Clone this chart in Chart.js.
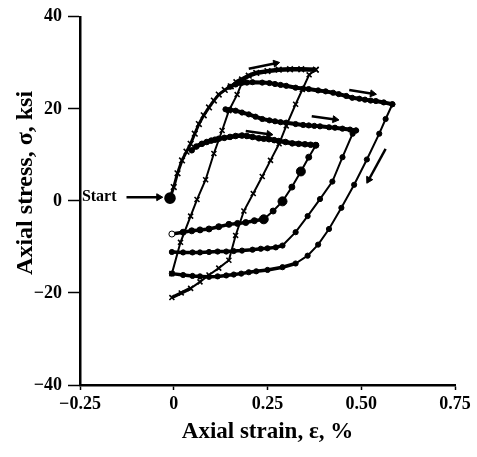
<!DOCTYPE html>
<html>
<head>
<meta charset="utf-8">
<script src="https://cdn.jsdelivr.net/npm/chart.js@4"></script>
<style>
  html, body { margin: 0; padding: 0; background: #fff; }
  canvas { display: block; }
</style>
</head>
<body>
<canvas id="hysteresis-canvas" width="477" height="457"></canvas>
<script>
// axis ticks
const xTickValues = [-0.25, 0, 0.25, 0.5, 0.75];
const xTickLabels = ['\u22120.25', '0', '0.25', '0.50', '0.75'];
const yTickValues = [-40, -20, 0, 20, 40];
const yTickLabels = ['\u221240', '\u221220', '0', '20', '40'];

// initial loading curve (crosses), start -> first peak
const loadStrain = [-0.01, 0.0, 0.01, 0.022, 0.034, 0.045, 0.056, 0.067, 0.08, 0.094, 0.107, 0.12, 0.136, 0.152, 0.167, 0.182, 0.2, 0.22, 0.25, 0.28, 0.31, 0.34, 0.379];
const loadStress = [0.6, 3, 6, 8.8, 10.7, 12.4, 14.6, 16.7, 18.6, 20.3, 21.8, 23.1, 24.1, 24.9, 25.8, 26.4, 27.2, 27.8, 28.2, 28.5, 28.6, 28.6, 28.5];

// unloading from first peak down to -21 ksi (crosses)
const unloadAStrain = [0.379, 0.361, 0.343, 0.325, 0.30, 0.281, 0.258, 0.236, 0.212, 0.187, 0.165, 0.147, 0.12, 0.094, 0.07, 0.045, 0.02, -0.005];
const unloadAStress = [28.5, 27.4, 24.2, 21, 16.3, 12.4, 8.8, 5.3, 1.6, -2.2, -7.5, -12.9, -14.6, -16.1, -17.6, -19, -20, -21];

// reloading from -16 ksi (crosses)
const reloadStrain = [-0.005, 0.018, 0.045, 0.062, 0.085, 0.107, 0.129, 0.147, 0.169, 0.182];
const reloadStress = [-15.8, -9, -3.3, 0.3, 4.6, 10.3, 15.3, 19.6, 23.1, 25.7];

// upper branch to 0.58 % and its unloading (dots)
const upperBStrain = [0.15, 0.165, 0.18, 0.195, 0.21, 0.236, 0.255, 0.27, 0.285, 0.30, 0.325, 0.345, 0.36, 0.385, 0.405, 0.425, 0.44, 0.46, 0.476, 0.495, 0.51, 0.525, 0.539, 0.56, 0.583];
const upperBStress = [24.8, 25.3, 25.6, 25.7, 25.8, 25.7, 25.6, 25.4, 25.2, 25.0, 24.6, 24.4, 24.3, 24.0, 23.8, 23.5, 23.2, 22.8, 22.4, 22.2, 22.0, 21.8, 21.7, 21.4, 21.0];
const unloadBStrain = [0.583, 0.565, 0.548, 0.515, 0.481, 0.447, 0.414, 0.385, 0.357, 0.325, 0.29, 0.25, 0.22, 0.2, 0.18, 0.16, 0.14, 0.117, 0.094, 0.07, 0.05, 0.025, -0.005];
const unloadBStress = [21, 17.8, 14.6, 9, 3.5, -1.5, -6.1, -9.5, -11.9, -13.6, -14.4, -15, -15.3, -15.5, -15.8, -16.0, -16.2, -16.4, -16.5, -16.4, -16.3, -16.1, -15.8];

// upper branch to 0.49 % and its unloading (dots)
const upperCStrain = [0.138, 0.15, 0.165, 0.182, 0.2, 0.218, 0.236, 0.255, 0.27, 0.285, 0.3, 0.325, 0.345, 0.36, 0.375, 0.39, 0.414, 0.43, 0.45, 0.47, 0.486];
const upperCStress = [19.9, 19.8, 19.6, 19.2, 18.8, 18.3, 17.8, 17.5, 17.3, 17.1, 17.0, 16.7, 16.5, 16.4, 16.3, 16.2, 16.0, 15.9, 15.7, 15.5, 15.3];
const unloadCStrain = [0.486, 0.477, 0.45, 0.423, 0.39, 0.357, 0.325, 0.29, 0.272, 0.25, 0.232, 0.21, 0.182, 0.16, 0.14, 0.117, 0.094, 0.07, 0.05, 0.025, -0.005];
const unloadCStress = [15.3, 14.6, 9.5, 4.2, 0.4, -3.3, -6.8, -9.7, -10.1, -10.3, -10.4, -10.6, -10.8, -10.9, -11.0, -11.0, -11.1, -11.2, -11.2, -11.2, -11.1];

// upper branch to 0.38 % and its unloading (dots)
const upperDStrain = [0.048, 0.06, 0.075, 0.088, 0.1, 0.11, 0.12, 0.135, 0.15, 0.165, 0.182, 0.195, 0.21, 0.227, 0.24, 0.254, 0.268, 0.28, 0.298, 0.316, 0.333, 0.35, 0.365, 0.379];
const upperDStress = [11, 11.8, 12.4, 12.8, 13.1, 13.3, 13.5, 13.7, 13.9, 14.1, 14.2, 14.1, 13.9, 13.6, 13.5, 13.4, 13.2, 13.0, 12.8, 12.5, 12.4, 12.3, 12.2, 12.1];
const unloadDStrain = [0.379, 0.36, 0.339, 0.315, 0.29, 0.265, 0.24, 0.215, 0.192, 0.17, 0.147, 0.12, 0.094, 0.07, 0.048, 0.025, -0.005];
const unloadDStress = [12.1, 9.5, 6.4, 3.0, -0.1, -2.2, -4.0, -4.3, -4.7, -4.9, -5.1, -5.6, -6.1, -6.3, -6.5, -6.8, -7.2];

// direction arrows: [strain0, stress0, strain1, stress1]
const arrows = [
  [0.20, 28.7, 0.272, 29.9],
  [0.468, 24.1, 0.53, 23.3],
  [0.368, 18.4, 0.43, 17.7],
  [0.192, 15.2, 0.254, 14.5],
  [0.565, 11.3, 0.52, 4.6],
  [-0.126, 0.8, -0.04, 0.8]
];
const startLabel = { text: 'Start', x: -0.245, y: 0.9 };

const pts = (xs, ys) => xs.map((x, i) => ({ x: x, y: ys[i] }));

function curve(xs, ys, style, width, radius) {
  return {
    data: pts(xs, ys),
    showLine: true,
    borderColor: '#000',
    backgroundColor: '#000',
    borderWidth: width,
    pointStyle: style,
    pointRadius: radius,
    pointBorderWidth: style === 'circle' ? 1 : 1.6,
    pointHoverRadius: radius,
    // flat, densely sampled stretches look heavier in the scan
    segment: {
      borderWidth: ctx => {
        const dx = Math.abs(ctx.p1.x - ctx.p0.x), dy = Math.abs(ctx.p1.y - ctx.p0.y);
        return dy < dx * 0.6 ? width + 1.5 : width;
      }
    }
  };
}

function arrowSet(a) {
  return {
    data: [{ x: a[0], y: a[1] }, { x: a[2], y: a[3] }],
    showLine: true,
    borderColor: '#000',
    backgroundColor: '#000',
    borderWidth: 2.5,
    pointStyle: 'triangle',
    pointRadius: [0, 4],
    pointBorderWidth: 1,
    rotation: ctx => {
      const sx = ctx.chart.scales.x, sy = ctx.chart.scales.y;
      const dx = sx.getPixelForValue(a[2]) - sx.getPixelForValue(a[0]);
      const dy = sy.getPixelForValue(a[3]) - sy.getPixelForValue(a[1]);
      return Math.atan2(dx, -dy) * 180 / Math.PI;
    }
  };
}

const startLabelPlugin = {
  id: 'startLabel',
  afterDatasetsDraw(chart) {
    const { ctx, scales } = chart;
    ctx.save();
    ctx.font = 'bold 16px "Liberation Serif"';
    ctx.fillStyle = '#000';
    ctx.textAlign = 'left';
    ctx.textBaseline = 'middle';
    ctx.fillText(startLabel.text, scales.x.getPixelForValue(startLabel.x), scales.y.getPixelForValue(startLabel.y));
    ctx.restore();
  }
};

const datasets = [
  curve(loadStrain, loadStress, 'crossRot', 3, 4),
  curve(unloadAStrain, unloadAStress, 'crossRot', 2, 3.5),
  curve(reloadStrain, reloadStress, 'crossRot', 2, 3.5),
  curve(upperBStrain, upperBStress, 'circle', 2.5, 2.6),
  curve(unloadBStrain, unloadBStress, 'circle', 2, 2.6),
  curve(upperCStrain, upperCStress, 'circle', 2.5, 2.6),
  curve(unloadCStrain, unloadCStress, 'circle', 2, 2.6),
  curve(upperDStrain, upperDStress, 'circle', 3, 2.8),
  curve(unloadDStrain, unloadDStress, 'circle', 2, 3)
];
// big dot at the start of the loading curve
datasets[0].pointStyle = loadStrain.map((v, i) => i === 0 ? 'circle' : 'crossRot');
datasets[0].pointRadius = loadStrain.map((v, i) => i === 0 ? 5 : 4);
// big dots on the unloading from the smallest peak, open circle at its end
datasets[8].pointRadius = unloadDStrain.map((v, i) => (i === 2 || i === 4 || i === 6) ? 4.5 : 3);
datasets[8].pointBackgroundColor = unloadDStrain.map((v, i) => i === unloadDStrain.length - 1 ? '#fff' : '#000');

new Chart(document.getElementById('hysteresis-canvas').getContext('2d'), {
  type: 'scatter',
  data: { datasets: datasets.concat(arrows.map(arrowSet)) },
  options: {
    responsive: false,
    animation: false,
    layout: { padding: { top: 13, right: 22, left: 0, bottom: 0 } },
    plugins: {
      legend: { display: false },
      tooltip: { enabled: false }
    },
    scales: {
      x: {
        type: 'linear',
        min: -0.25,
        max: 0.75,
        afterBuildTicks: s => { s.ticks = xTickValues.map(v => ({ value: v })); },
        afterFit: s => { s.height = 72; },
        ticks: {
          color: '#000',
          padding: 4,
          maxRotation: 0,
          font: { family: '"Liberation Serif"', size: 18, weight: 'bold' },
          callback: v => xTickLabels[xTickValues.indexOf(v)]
        },
        grid: { drawOnChartArea: false, drawTicks: true, tickLength: 5, color: '#000', tickWidth: 1.5 },
        border: { display: true, color: '#000', width: 2.5 },
        title: {
          display: true,
          text: 'Axial strain, \u03b5, %',
          color: '#000',
          padding: { top: 0, bottom: 11 },
          font: { family: '"Liberation Serif"', size: 23, weight: 'bold' }
        }
      },
      y: {
        type: 'linear',
        min: -40,
        max: 40,
        afterBuildTicks: s => { s.ticks = yTickValues.map(v => ({ value: v })); },
        afterFit: s => { s.width = 80; },
        ticks: {
          color: '#000',
          padding: 6,
          font: { family: '"Liberation Serif"', size: 18, weight: 'bold' },
          callback: v => yTickLabels[yTickValues.indexOf(v)]
        },
        grid: { drawOnChartArea: false, drawTicks: true, tickLength: 12, color: '#000', tickWidth: 1.5 },
        border: { display: true, color: '#000', width: 2.5 },
        title: {
          display: true,
          text: '      Axial stress, \u03c3, ksi',
          color: '#000',
          padding: { top: 11, bottom: 0 },
          font: { family: '"Liberation Serif"', size: 24, weight: 'bold' }
        }
      }
    }
  },
  plugins: [startLabelPlugin]
});
</script>
</body>
</html>
